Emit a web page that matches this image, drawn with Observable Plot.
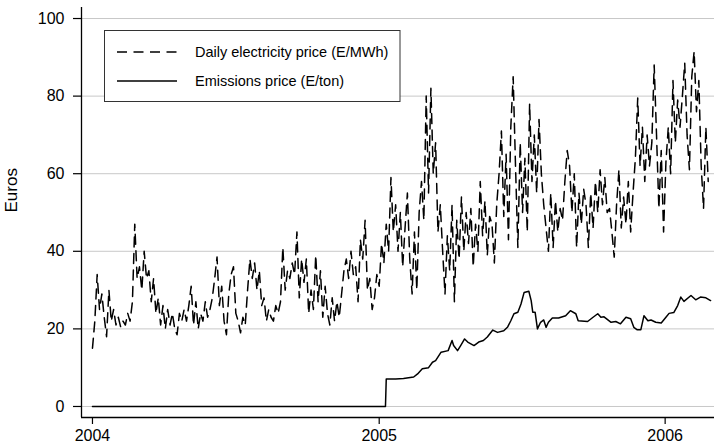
<!DOCTYPE html>
<html><head><meta charset="utf-8">
<script src="https://cdn.jsdelivr.net/npm/d3@7"></script>
<script src="https://cdn.jsdelivr.net/npm/@observablehq/plot@0.6"></script>
<style>
html,body{margin:0;padding:0;background:#fff}
#chart{position:relative;width:714px;height:447px}
</style>
</head><body><div id="chart"></div>
<script>
const seriesNames = ["Daily electricity price (E/MWh)", "Emissions price (E/ton)"];
const yLabel = "Euros";
const yTicks = [0, 20, 40, 60, 80, 100];
const xTickDates = ["2004-01-01", "2005-01-01", "2006-01-01"];

// Daily electricity price, read every 3rd day from 2004-01-01
const elecStart = "2004-01-01";
const elecStepDays = 3;
const elecPrice = [
  15, 22, 34, 25, 29, 23, 18, 30, 22, 25,
  21, 23, 20.5, 22, 21, 24, 22, 27, 47, 33,
  36, 30, 40, 33, 35, 27, 33, 24, 28, 21,
  26, 20, 25, 21, 24, 20, 18.5, 24, 22, 25,
  22, 26, 31, 21, 27, 20, 24, 22, 27, 23,
  25, 28, 33, 38.5, 26, 31, 22, 18.5, 29, 34,
  36, 24, 22, 19, 23, 21, 30, 38, 33, 37,
  30, 35, 26, 28, 22, 25, 23, 22, 26, 24,
  27, 41, 30, 35, 33, 37, 34, 45, 28, 38,
  32, 38, 24, 30, 25, 39, 27, 35, 23, 31,
  24, 21, 28, 22, 27, 23, 29, 35, 38, 33,
  40, 34, 36, 27, 43, 38, 48, 30, 33, 25,
  28, 34, 31, 42, 37, 47, 40, 59, 45, 52,
  40, 50, 36, 46, 55, 38, 29, 45, 30, 50,
  58, 48, 80, 55, 82, 60, 68, 45, 52, 40,
  29, 44, 35, 52, 27, 48, 38, 54, 40, 50,
  42, 51, 36, 47, 40, 58, 44, 53, 39, 49,
  47, 37, 52, 60, 71, 49, 65, 43, 72, 85,
  62, 41, 68, 50, 64, 45, 78, 58, 70, 55,
  74, 60, 52, 46, 40, 55, 41, 53, 45, 51,
  48, 58, 66, 62, 50, 60, 41, 55, 47, 56,
  52, 41, 55, 46, 58, 50, 61, 52, 59, 50,
  51, 45, 38.5, 52, 61, 46, 54, 47, 58, 45,
  55, 64, 79.5, 62, 72, 58, 70, 62, 68, 88,
  70, 51, 66, 45, 63, 72, 60, 84, 68, 79,
  72, 80, 88.5, 70, 61, 85, 91.5, 76, 84, 62,
  51, 72, 58
];

// Emissions price
const emisDates = [
  "2004-01-01","2005-01-09","2005-01-10","2005-01-22","2005-02-01","2005-02-14","2005-02-19","2005-02-25",
  "2005-03-05","2005-03-10","2005-03-14","2005-03-21","2005-03-30","2005-04-04","2005-04-06","2005-04-11",
  "2005-04-15","2005-04-20","2005-04-24","2005-05-02","2005-05-08","2005-05-14","2005-05-19","2005-05-26",
  "2005-06-01","2005-06-09","2005-06-14","2005-06-18","2005-06-22","2005-06-27","2005-07-01","2005-07-05",
  "2005-07-11","2005-07-14","2005-07-16","2005-07-19","2005-07-22","2005-07-26","2005-07-30","2005-08-02",
  "2005-08-05","2005-08-10","2005-08-18","2005-08-27","2005-09-02","2005-09-09","2005-09-12","2005-09-24",
  "2005-10-01","2005-10-07","2005-10-11","2005-10-15","2005-10-24","2005-10-30","2005-11-05","2005-11-12",
  "2005-11-18","2005-11-22","2005-11-26","2005-12-01","2005-12-05","2005-12-10","2005-12-14","2005-12-20",
  "2005-12-27","2006-01-02","2006-01-06","2006-01-12","2006-01-17","2006-01-21","2006-01-25","2006-02-03",
  "2006-02-09","2006-02-15","2006-02-22","2006-02-28"
];
const emisPrice = [
  0, 0, 7.1, 7.1, 7.2, 7.6, 8.4, 9.7,
  10.0, 11.4, 11.8, 14.0, 14.4, 17.0, 15.7, 14.4,
  15.7, 17.4, 16.6, 15.7, 16.6, 17.0, 17.9, 19.7,
  19.1, 19.5, 20.5, 22.1, 23.9, 24.3, 26.4, 29.4,
  29.7, 27.3, 24.3, 24.3, 20.0, 21.7, 22.3, 20.4,
  21.7, 22.8, 22.8, 23.4, 24.7, 23.9, 22.1, 21.9,
  23.0, 23.9, 23.0, 23.1, 21.7, 21.9, 21.3, 23.0,
  22.6, 20.4, 19.8, 19.8, 23.4, 22.1, 22.3, 21.7,
  21.5, 23.0, 24.0, 24.2, 26.0, 28.2, 27.1, 28.6,
  27.5, 28.2, 28.0, 27.3
];

const elec = elecPrice.map((v, i) => ({date: d3.utcDay.offset(new Date(elecStart), i * elecStepDays), value: v}));
const emis = emisDates.map((d, i) => ({date: new Date(d), value: emisPrice[i]}));
const xTicks = xTickDates.map(d => new Date(d));

const xDomain = [new Date("2003-12-18"), new Date("2006-03-05")];
const yDomain = [-2.84, 102.84];
const dash = "10,6.5";
const font = "'Liberation Sans', Arial, Helvetica, sans-serif";

const plot = Plot.plot({
  width: 714, height: 447,
  marginLeft: 81, marginRight: 0, marginTop: 7, marginBottom: 30,
  style: {fontFamily: font, fontSize: "16px", background: "#fff", color: "#000", overflow: "visible"},
  x: {type: "utc", domain: xDomain},
  y: {domain: yDomain},
  marks: [
    Plot.gridY(yTicks, {stroke: "#c8c8c8", strokeOpacity: 1, strokeWidth: 1}),
    Plot.axisY(yTicks, {tickSize: 8, tickPadding: 9, label: null, fontSize: 16, strokeWidth: 1.2}),
    Plot.axisX(xTicks, {tickSize: 7, tickPadding: 5, tickFormat: "%Y", label: null, fontSize: 16, strokeWidth: 1.2}),
    Plot.ruleX([xDomain[0]], {stroke: "#000", strokeWidth: 1.3}),
    Plot.ruleY([yDomain[0]], {stroke: "#000", strokeWidth: 1.3}),
    Plot.lineY(emis, {x: "date", y: "value", stroke: "#000", strokeWidth: 1.5}),
    Plot.lineY(elec, {x: "date", y: "value", stroke: "#000", strokeWidth: 1.5, strokeDasharray: dash}),
    Plot.text([yLabel], {frameAnchor: "left", dx: -70, rotate: -90, fontSize: 17, fill: "#000"})
  ]
});

document.getElementById("chart").appendChild(plot);

// Legend box
const svg = d3.select(plot);
const g = svg.append("g").attr("font-family", font).attr("font-size", 14.5).attr("text-anchor", "start");
g.append("rect").attr("x", 104.5).attr("y", 30.5).attr("width", 295.5).attr("height", 71)
  .attr("fill", "#fff").attr("stroke", "#333").attr("stroke-width", 1);
const rowsY = [52, 81];
seriesNames.forEach((name, i) => {
  g.append("line").attr("x1", 117).attr("x2", 177).attr("y1", rowsY[i]).attr("y2", rowsY[i])
    .attr("stroke", "#000").attr("stroke-width", 1.5)
    .attr("stroke-dasharray", i === 0 ? dash : null);
  g.append("text").attr("x", 195).attr("y", rowsY[i]).attr("dy", "0.35em")
    .attr("text-anchor", "start").attr("fill", "#000").text(name);
});
</script>
</body></html>
